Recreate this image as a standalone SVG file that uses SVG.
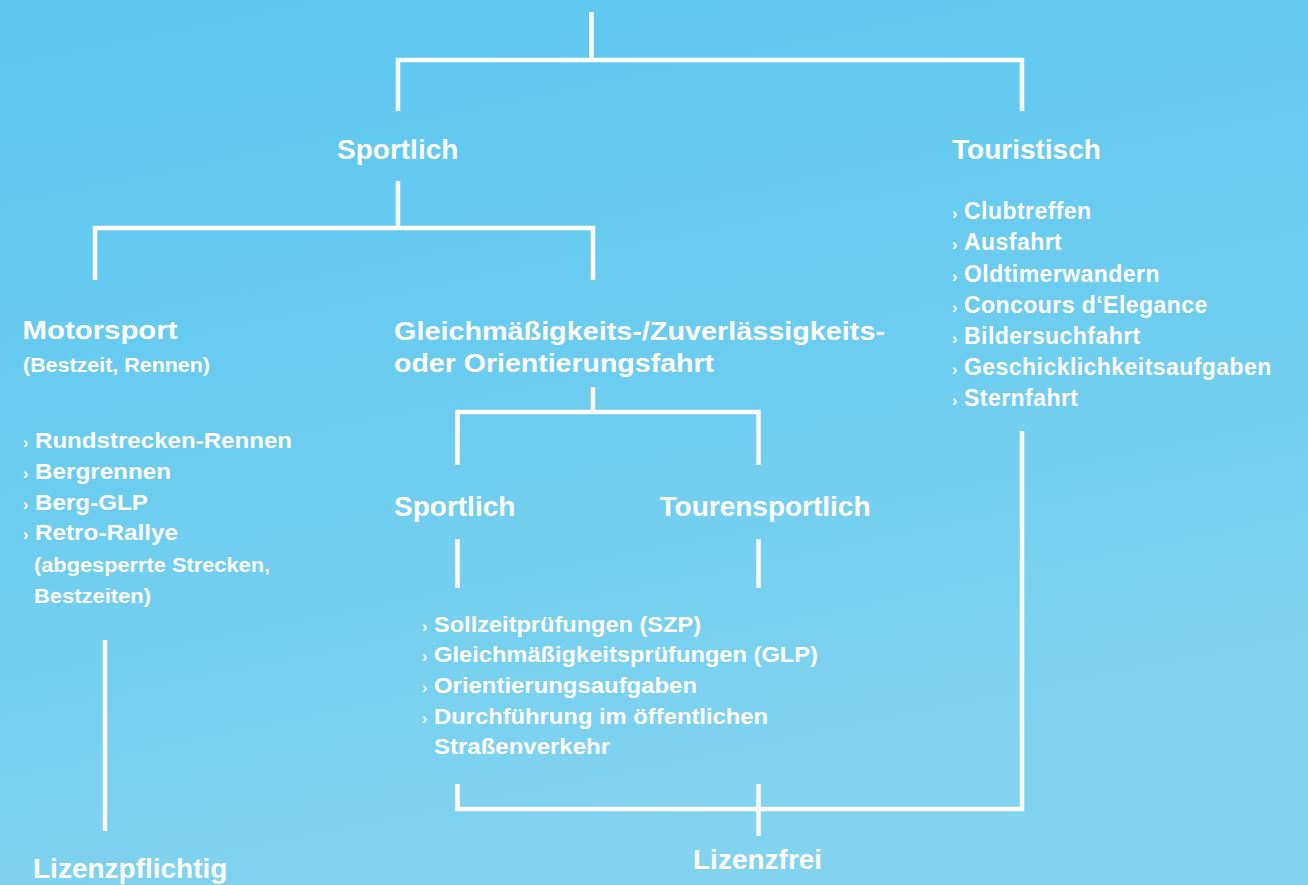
<svg xmlns="http://www.w3.org/2000/svg" width="1308" height="885" viewBox="0 0 1308 885">
  <defs>
    <linearGradient id="bg" x1="0" y1="0" x2="0.3" y2="1">
      <stop offset="0" stop-color="#5BC7EF"/>
      <stop offset="0.5" stop-color="#6BCCEF"/>
      <stop offset="1" stop-color="#82D3F0"/>
    </linearGradient>
    <style>
      text { font-family: "Liberation Sans", Arial, Helvetica, sans-serif; font-weight: bold; fill: #ffffff; }
      .t1 { font-size: 28px; }
      .t3 { font-size: 25.5px; }
      .sub { font-size: 20px; }
      .ll { font-size: 22.5px; }
      .ml { font-size: 22.6px; }
      .rl { font-size: 23px; letter-spacing: 0.45px; }
      .b { font-size: 16px; }
      .con { fill: none; stroke: #ffffff; stroke-width: 4.5; stroke-linecap: butt; stroke-linejoin: miter; }
    </style>
  </defs>
  <rect x="0" y="0" width="1308" height="885" fill="url(#bg)"/>

  <g id="connectors" class="con">
    <path d="M591.5 12 V60"/>
    <path d="M398 111 V60 H1022 V111"/>
    <path d="M398 181 V228"/>
    <path d="M95 280 V228 H593 V280"/>
    <path d="M593 387 V412"/>
    <path d="M457.5 465 V412 H758.5 V465"/>
    <path d="M457.5 539 V588"/>
    <path d="M758.5 539 V588"/>
    <path d="M457.5 784 V809 H1022 V431"/>
    <path d="M758.5 784 V836"/>
    <path d="M105 640 V831"/>
  </g>

  <g id="node-sportlich">
    <text class="t1" x="337" y="159">Sportlich</text>
  </g>

  <g id="node-touristisch">
    <text class="t1" x="952" y="158.5">Touristisch</text>
    <text class="b" x="952" y="219.3">›</text><text class="rl" x="964" y="219.3">Clubtreffen</text>
    <text class="b" x="952" y="250.4">›</text><text class="rl" x="964" y="250.4">Ausfahrt</text>
    <text class="b" x="952" y="281.5">›</text><text class="rl" x="964" y="281.5">Oldtimerwandern</text>
    <text class="b" x="952" y="312.6">›</text><text class="rl" x="964" y="312.6">Concours d‘Elegance</text>
    <text class="b" x="952" y="343.7">›</text><text class="rl" x="964" y="343.7">Bildersuchfahrt</text>
    <text class="b" x="952" y="374.8">›</text><text class="rl" x="964" y="374.8">Geschicklichkeitsaufgaben</text>
    <text class="b" x="952" y="405.9">›</text><text class="rl" x="964" y="405.9">Sternfahrt</text>
  </g>

  <g id="node-motorsport">
    <text class="t3" x="22.5" y="338.5" textLength="155" lengthAdjust="spacingAndGlyphs">Motorsport</text>
    <text class="sub" x="23" y="371.7" textLength="187" lengthAdjust="spacingAndGlyphs">(Bestzeit, Rennen)</text>
    <text class="b" x="23" y="448.3">›</text><text class="ll" x="35" y="448.3" textLength="257" lengthAdjust="spacingAndGlyphs">Rundstrecken-Rennen</text>
    <text class="b" x="23" y="478.9">›</text><text class="ll" x="35" y="478.9" textLength="136" lengthAdjust="spacingAndGlyphs">Bergrennen</text>
    <text class="b" x="23" y="509.5">›</text><text class="ll" x="35" y="509.5" textLength="113" lengthAdjust="spacingAndGlyphs">Berg-GLP</text>
    <text class="b" x="23" y="540.1">›</text><text class="ll" x="35" y="540.1" textLength="143" lengthAdjust="spacingAndGlyphs">Retro-Rallye</text>
    <text class="sub" x="34" y="571.5" textLength="236" lengthAdjust="spacingAndGlyphs">(abgesperrte Strecken,</text>
    <text class="sub" x="34" y="602.5" textLength="117" lengthAdjust="spacingAndGlyphs">Bestzeiten)</text>
  </g>

  <g id="node-gleichmaessigkeit">
    <text class="t3" x="394" y="340" textLength="491" lengthAdjust="spacingAndGlyphs">Gleichmäßigkeits-/Zuverlässigkeits-</text>
    <text class="t3" x="394" y="371.5" textLength="320" lengthAdjust="spacingAndGlyphs">oder Orientierungsfahrt</text>
  </g>

  <g id="node-sportlich-2">
    <text class="t1" x="394" y="516">Sportlich</text>
  </g>

  <g id="node-tourensportlich">
    <text class="t1" x="659.5" y="516">Tourensportlich</text>
  </g>

  <g id="node-pruefungen">
    <text class="b" x="422" y="631.7">›</text><text class="ml" x="434" y="631.7" textLength="267" lengthAdjust="spacingAndGlyphs">Sollzeitprüfungen (SZP)</text>
    <text class="b" x="422" y="662.3">›</text><text class="ml" x="434" y="662.3" textLength="384" lengthAdjust="spacingAndGlyphs">Gleichmäßigkeitsprüfungen (GLP)</text>
    <text class="b" x="422" y="692.9">›</text><text class="ml" x="434" y="692.9" textLength="263" lengthAdjust="spacingAndGlyphs">Orientierungsaufgaben</text>
    <text class="b" x="422" y="723.5">›</text><text class="ml" x="434" y="723.5" textLength="334" lengthAdjust="spacingAndGlyphs">Durchführung im öffentlichen</text>
    <text class="ml" x="434" y="754.1" textLength="176" lengthAdjust="spacingAndGlyphs">Straßenverkehr</text>
  </g>

  <g id="node-lizenzpflichtig">
    <text class="t1" x="33" y="878">Lizenzpflichtig</text>
  </g>

  <g id="node-lizenzfrei">
    <text class="t1" x="693" y="869">Lizenzfrei</text>
  </g>
</svg>
